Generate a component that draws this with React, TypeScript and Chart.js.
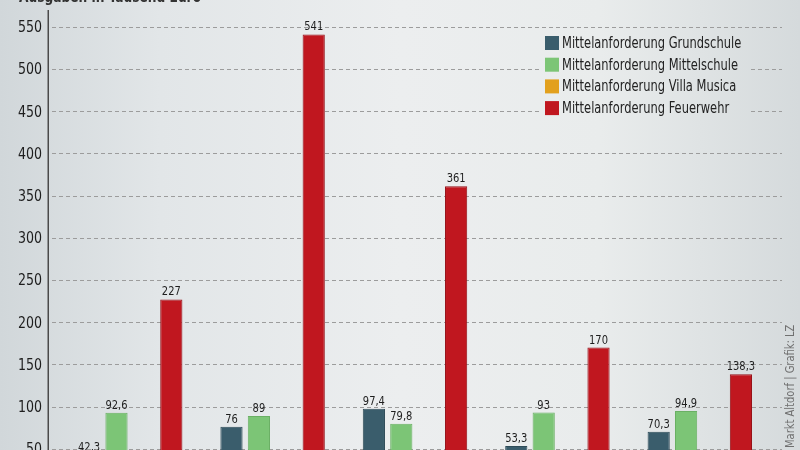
import React, { useEffect, useRef } from "react";
import { Chart, registerables } from "chart.js";

Chart.register(...registerables);

// ---- data ----
const categories = ["2019", "2020", "2021", "2022", "2023"];
const seriesNames = [
  "Mittelanforderung Grundschule",
  "Mittelanforderung Mittelschule",
  "Mittelanforderung Villa Musica",
  "Mittelanforderung Feuerwehr",
];
const grundschule = [42.3, 76, 97.4, 53.3, 70.3];
const mittelschule = [92.6, 89, 79.8, 93, 94.9];
const villaMusica = [18, 12, 27.7, 20, 15];
const feuerwehr = [227, 541, 361, 170, 138.3];
const yTickValues = [0, 50, 100, 150, 200, 250, 300, 350, 400, 450, 500, 550];
const yMax = 570;
const titleText = "Ausgaben in Tausend Euro";
const sourceText = "Markt Altdorf | Grafik: LZ";

// ---- styles ----
const FONT = '"DejaVu Sans Condensed", "DejaVu Sans", sans-serif';
const SX = 0.85; // horizontal condensing of text
const fills = ["#3a5d6c", "#7cc576", "#e2a01d", "#c0171f"];
const borders = ["#2e4b58", "#6ab064", "#c98c14", "#961219"];
const OFFSET = 20; // canvas is shifted up by this many px
const legendRect = { left: 541, right: 751, top: 52, bottom: 138 };

function drawText(
  ctx: CanvasRenderingContext2D,
  text: string,
  x: number,
  y: number,
  align: CanvasTextAlign,
  baseline: CanvasTextBaseline
) {
  ctx.save();
  ctx.translate(x, y);
  ctx.scale(SX, 1);
  ctx.textAlign = align;
  ctx.textBaseline = baseline;
  ctx.fillText(text, 0, 0);
  ctx.restore();
}

const decorPlugin = {
  id: "decor",
  beforeDatasetsDraw(chart: any) {
    const { ctx, chartArea, scales } = chart;
    const y = scales.y;
    ctx.save();
    ctx.strokeStyle = "#9c9c9c";
    ctx.lineWidth = 1;
    ctx.setLineDash([4, 3]);
    y.ticks.forEach((t: any) => {
      const py = Math.round(y.getPixelForValue(t.value)) + 0.5;
      ctx.beginPath();
      if (py > legendRect.top && py < legendRect.bottom) {
        ctx.moveTo(52, py);
        ctx.lineTo(legendRect.left, py);
        ctx.moveTo(legendRect.right, py);
        ctx.lineTo(782, py);
      } else {
        ctx.moveTo(52, py);
        ctx.lineTo(782, py);
      }
      ctx.stroke();
    });
    ctx.setLineDash([]);
    ctx.strokeStyle = "#4a4a4a";
    ctx.lineWidth = 1.5;
    ctx.beginPath();
    ctx.moveTo(48.25, chartArea.top);
    ctx.lineTo(48.25, chartArea.bottom);
    ctx.stroke();
    // y tick labels
    ctx.fillStyle = "#1e1e1e";
    ctx.font = `16.5px ${FONT}`;
    y.ticks.forEach((t: any) => {
      const py = y.getPixelForValue(t.value);
      drawText(ctx, String(t.value), 42, py + 1, "right", "middle");
    });
    ctx.restore();
  },
  afterDatasetsDraw(chart: any) {
    const { ctx } = chart;
    ctx.save();
    // value labels
    ctx.fillStyle = "#1e1e1e";
    ctx.font = `13px ${FONT}`;
    chart.data.datasets.forEach((ds: any, i: number) => {
      const meta = chart.getDatasetMeta(i);
      meta.data.forEach((el: any, j: number) => {
        const v = ds.data[j];
        if (v == null) return;
        drawText(ctx, String(v).replace(".", ","), el.x, el.y - 4, "center", "alphabetic");
      });
    });
    // legend
    ctx.font = `15px ${FONT}`;
    chart.data.datasets.forEach((ds: any, i: number) => {
      const cy = 63 + i * 21.7;
      ctx.fillStyle = ds.backgroundColor;
      ctx.fillRect(545, cy - 7, 14, 14);
      ctx.fillStyle = "#222222";
      drawText(ctx, ds.label, 562, cy + 1, "left", "middle");
    });
    // title
    ctx.font = `bold 16px ${FONT}`;
    ctx.fillStyle = "#333333";
    drawText(ctx, titleText, 19, 22, "left", "alphabetic");
    // source (vertical)
    ctx.translate(791, 468);
    ctx.rotate(-Math.PI / 2);
    ctx.font = `13px ${FONT}`;
    ctx.fillStyle = "#707070";
    drawText(ctx, sourceText, 0, 0, "left", "middle");
    ctx.restore();
  },
};

export default function App() {
  const ref = useRef<HTMLCanvasElement>(null);
  useEffect(() => {
    const series = [grundschule, mittelschule, villaMusica, feuerwehr];
    const chart = new Chart(ref.current as HTMLCanvasElement, {
      type: "bar",
      data: {
        labels: categories,
        datasets: series.map((d, i) => ({
          label: seriesNames[i],
          data: d,
          backgroundColor: fills[i],
          borderColor: borders[i],
          borderWidth: 1,
          categoryPercentage: 0.77,
          barPercentage: 0.81,
        })),
      },
      options: {
        animation: false,
        responsive: false,
        maintainAspectRatio: false,
        layout: { padding: { top: 30, bottom: 10, left: 0, right: 29 } },
        plugins: {
          legend: { display: false },
          tooltip: { enabled: false },
          title: { display: false },
        },
        scales: {
          x: {
            grid: { display: false, drawTicks: false },
            border: { display: false },
            ticks: { font: { family: FONT, size: 14 }, color: "#222" },
            afterFit: (s: any) => {
              s.height = 40;
            },
          },
          y: {
            min: 0,
            max: yMax,
            grid: { display: false, drawTicks: false },
            border: { display: false },
            ticks: { display: false },
            afterBuildTicks: (s: any) => {
              s.ticks = yTickValues.map((v) => ({ value: v }));
            },
            afterFit: (s: any) => {
              s.width = 59;
            },
          },
        },
      },
      plugins: [decorPlugin],
    });
    return () => chart.destroy();
  }, []);
  return (
    <div
      style={{
        position: "fixed",
        left: 0,
        top: -OFFSET,
        width: 800,
        height: 561,
        background:
          "linear-gradient(to right, #d1d7da 0%, #e2e6e8 20%, #eceeef 50%, #e9ecec 75%, #d5dadc 100%)",
      }}
    >
      <canvas ref={ref} width={800} height={561} style={{ display: "block" }} />
    </div>
  );
}
